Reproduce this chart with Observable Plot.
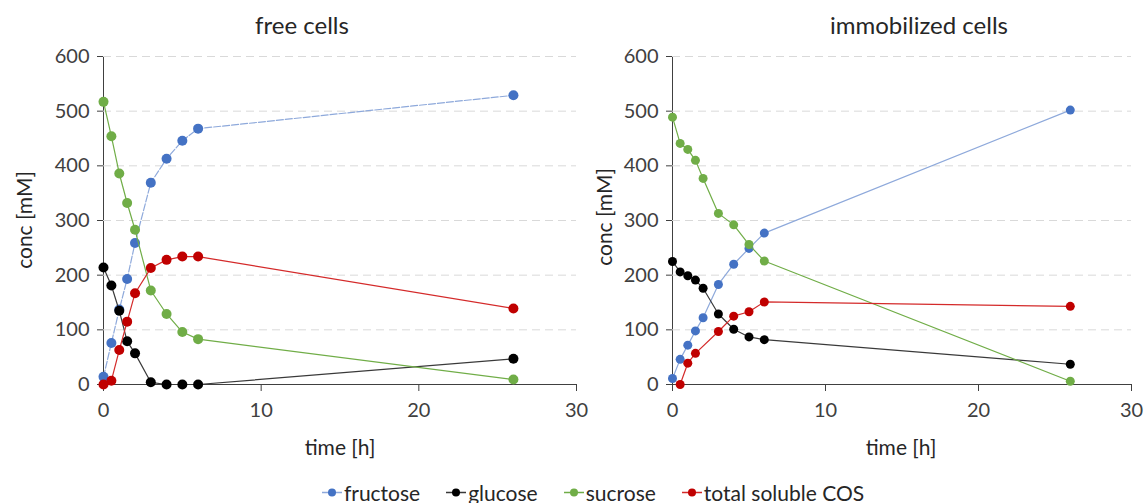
<!DOCTYPE html>
<html>
<head>
<meta charset="utf-8">
<script src="https://cdn.jsdelivr.net/npm/d3@7"></script>
<script src="https://cdn.jsdelivr.net/npm/@observablehq/plot@0.6"></script>
<style>
  html, body { margin: 0; padding: 0; background: #fff; }
  body { width: 1146px; height: 503px; position: relative; overflow: hidden; font-family: Lato, "Open Sans", sans-serif; color: #262626; }
  .abs { position: absolute; white-space: nowrap; }
  .title { font-size: 24px; transform: translate(-50%, -50%); }
  .xlab { font-size: 21px; transform: translate(-50%, -50%); }
  .ylab { font-size: 21px; transform: translate(-50%, -50%) rotate(-90deg); }
  #legend { position: absolute; left: 0; width: 1186px; top: 492px; transform: translateY(-50%); display: flex; justify-content: center; gap: 26px; font-size: 21px; }
  #legend .item { display: flex; align-items: center; gap: 2px; }
</style>
</head>
<body>
<div id="left" class="abs" style="left:0;top:40px;"></div>
<div id="right" class="abs" style="left:590px;top:40px;"></div>
<div class="abs title" style="left:302px;top:24px;">free cells</div>
<div class="abs title" style="left:919px;top:24px;">immobilized cells</div>
<div class="abs xlab" style="left:340px;top:446px;">time [h]</div>
<div class="abs xlab" style="left:901px;top:446px;">time [h]</div>
<div class="abs ylab" style="left:23px;top:220px;">conc [mM]</div>
<div class="abs ylab" style="left:603px;top:217px;">conc [mM]</div>
<div id="legend"></div>
<script>
// ---- data ----
const seriesNames = ["fructose", "glucose", "sucrose", "total soluble COS"];
const dotColors = ["#4472C4", "#000000", "#70AD47", "#C00000"];
const lineColors = ["#8EA9DB", "#3a3a3a", "#70AD47", "#D42A2A"];

const timesFree = [0, 0.5, 1, 1.5, 2, 3, 4, 5, 6, 26];
const fructoseFree = [14, 76, 137, 193, 259, 369, 413, 446, 468, 529];
const glucoseFree = [214, 181, 135, 79, 57, 4, 0, 0, 0, 47];
const sucroseFree = [517, 454, 386, 332, 283, 172, 129, 96, 83, 9];
const cosFree = [0, 7, 63, 115, 167, 213, 228, 234, 234, 139];

const timesImm = [0, 0.5, 1, 1.5, 2, 3, 4, 5, 6, 26];
const fructoseImm = [11, 46, 72, 98, 122, 183, 220, 249, 277, 502];
const glucoseImm = [225, 206, 199, 191, 176, 129, 101, 87, 82, 37];
const sucroseImm = [489, 441, 430, 410, 377, 313, 292, 256, 226, 6];
const cosImm = [null, 0, 39, 57, null, 97, 125, 133, 151, 143];

const yTicks = [0, 100, 200, 300, 400, 500, 600];
const xTicks = [0, 10, 20, 30];

function rowsFor(times, values) {
  const out = [];
  times.forEach((t, i) => { if (values[i] != null) out.push({time: t, value: values[i]}); });
  return out;
}

function makePlot(times, seriesValues, opts) {
  const marks = [
    Plot.ruleY(yTicks.filter(v => v > 0), {stroke: "#d9d9d9", strokeDasharray: "8,5", strokeWidth: 1})
  ];
  seriesValues.forEach((vals, i) => {
    const rows = rowsFor(times, vals);
    marks.push(Plot.line(rows, {
      x: "time", y: "value", stroke: lineColors[i], strokeWidth: 1.2,
      strokeDasharray: (opts.dashFirst && i === 0) ? "7,2" : null
    }));
    marks.push(Plot.dot(rows, {x: "time", y: "value", fill: dotColors[i], r: opts.r}));
  });
  return Plot.plot({
    width: opts.width, height: 420,
    marginLeft: opts.ml, marginRight: opts.mr, marginTop: 16, marginBottom: 76,
    style: {fontFamily: "Lato, sans-serif", fontSize: "20px", color: "#404040", background: "transparent", overflow: "visible"},
    x: {domain: [0, 30], ticks: xTicks, tickSize: 7, tickPadding: 11, label: null, line: true},
    y: {domain: [0, 600], ticks: yTicks, tickSize: 6, tickPadding: 8, label: null, line: true},
    marks
  });
}

document.getElementById("left").appendChild(
  makePlot(timesFree, [fructoseFree, glucoseFree, sucroseFree, cosFree], {width: 590, ml: 103, mr: 14, r: 5, dashFirst: true})
);
document.getElementById("right").appendChild(
  makePlot(timesImm, [fructoseImm, glucoseImm, sucroseImm, cosImm], {width: 556, ml: 82, mr: 15, r: 4.5, dashFirst: false})
);

// legend
const legend = document.getElementById("legend");
seriesNames.forEach((name, i) => {
  const item = document.createElement("div");
  item.className = "item";
  item.innerHTML = `<svg width="20" height="12"><line x1="0" x2="20" y1="6" y2="6" stroke="${lineColors[i]}" stroke-width="1.5"></line><circle cx="10" cy="6" r="4" fill="${dotColors[i]}"></circle></svg><span>${name}</span>`;
  legend.appendChild(item);
});
</script>
</body>
</html>
